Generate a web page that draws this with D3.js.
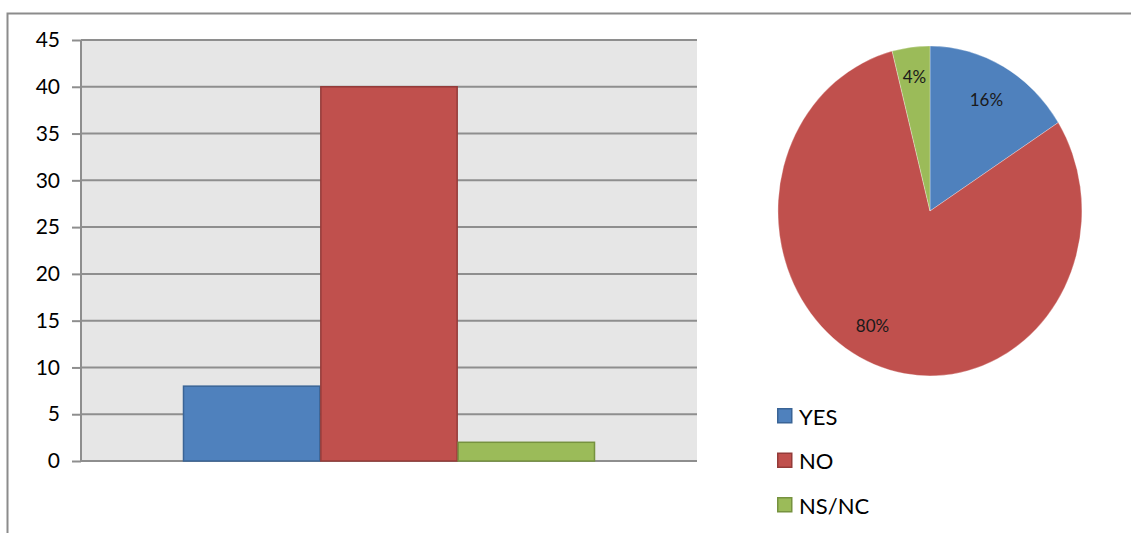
<!DOCTYPE html>
<html>
<head>
<meta charset="utf-8">
<script src="https://cdn.jsdelivr.net/npm/d3@7"></script>
<style>
  html, body { margin: 0; padding: 0; background: #fff; }
  svg { display: block; font-family: Lato, "Open Sans", "Liberation Sans", sans-serif; }
</style>
</head>
<body>
<svg id="chart" width="1131" height="533"></svg>
<script>
// Survey answers
const categories = ["YES", "NO", "NS/NC"];
const counts = [8, 40, 2];
const percentLabels = ["16%", "80%", "4%"];
const yTicks = [0, 5, 10, 15, 20, 25, 30, 35, 40, 45];

const fills = ["#4f81bd", "#c0504d", "#9bbb59"];
const strokes = ["#3a6496", "#943b39", "#76923f"];

const svg = d3.select("#chart");

// outer frame (top and left edges)
svg.append("path")
  .attr("d", "M7.5,533 V13.5 H1131")
  .attr("fill", "none")
  .attr("stroke", "#8c8c8c")
  .attr("stroke-width", 2);

// ---- bar chart ----
const plot = { left: 81, right: 697, top: 40, bottom: 461 };
const y = d3.scaleLinear().domain([0, 45]).range([plot.bottom, plot.top]);
const x = d3.scaleBand().domain(categories)
  .range([plot.left + 102, plot.right - 102]).padding(0);

svg.append("rect")
  .attr("x", plot.left).attr("y", plot.top)
  .attr("width", plot.right - plot.left).attr("height", plot.bottom - plot.top)
  .attr("fill", "#e6e6e6");

// gridlines
svg.append("g")
  .selectAll("line")
  .data(yTicks)
  .join("line")
  .attr("x1", plot.left).attr("x2", plot.right)
  .attr("y1", d => y(d)).attr("y2", d => y(d))
  .attr("stroke", "#8e8e8e").attr("stroke-width", 2);

// y axis
const yAxis = d3.axisLeft(y).tickValues(yTicks).tickSize(9).tickPadding(12);
const gy = svg.append("g").attr("transform", `translate(${plot.left},0)`).call(yAxis);
gy.select(".domain").attr("stroke", "#8e8e8e").attr("stroke-width", 2)
  .attr("d", `M0,${plot.top}V${plot.bottom}`);
gy.selectAll(".tick line").attr("stroke", "#8e8e8e").attr("stroke-width", 2);
gy.selectAll(".tick text")
  .attr("fill", "#000")
  .style("font-size", "21px")
  .style("font-family", "Lato, 'Open Sans', sans-serif");

// bars
svg.append("g")
  .selectAll("rect")
  .data(categories)
  .join("rect")
  .attr("x", d => x(d) + 0.5)
  .attr("y", (d, i) => y(counts[i]))
  .attr("width", x.bandwidth() - 1)
  .attr("height", (d, i) => y(0) - y(counts[i]))
  .attr("fill", (d, i) => fills[i])
  .attr("stroke", (d, i) => strokes[i])
  .attr("stroke-width", 1.5);

// ---- pie chart (slightly taller than wide) ----
const cx = 930, cy = 211, rx = 152, ry = 165;
const pie = d3.pie().sort(null).value(d => d)(counts);
const arc = d3.arc().innerRadius(0).outerRadius(1);

const pieG = svg.append("g").attr("transform", `translate(${cx},${cy}) scale(${rx},${ry})`);
pieG.selectAll("path")
  .data(pie)
  .join("path")
  .attr("d", arc)
  .attr("fill", (d, i) => fills[i])
  .attr("stroke", "#fff")
  .attr("stroke-width", 0.3)
  .attr("vector-effect", "non-scaling-stroke");

// percentage labels: radial distance and small angular nudge per slice
const labelRadius = [0.77, 0.79, 0.82];
const labelNudgeDeg = [0, 7, 0];
svg.append("g")
  .selectAll("text")
  .data(pie)
  .join("text")
  .each(function (d, i) {
    const a = (d.startAngle + d.endAngle) / 2 + labelNudgeDeg[i] * Math.PI / 180;
    d3.select(this)
      .attr("x", cx + rx * labelRadius[i] * Math.sin(a))
      .attr("y", cy - ry * labelRadius[i] * Math.cos(a));
  })
  .attr("text-anchor", "middle")
  .attr("dominant-baseline", "central")
  .attr("fill", "#1a1a1a")
  .style("font-size", "17px")
  .text((d, i) => percentLabels[i]);

// legend
const legend = svg.append("g").attr("transform", "translate(777,408)");
const item = legend.selectAll("g")
  .data(categories)
  .join("g")
  .attr("transform", (d, i) => `translate(0,${i * 44.5})`);
item.append("rect")
  .attr("x", 0.75).attr("y", 0.75).attr("width", 14).attr("height", 14)
  .attr("fill", (d, i) => fills[i])
  .attr("stroke", (d, i) => strokes[i])
  .attr("stroke-width", 1.5);
item.append("text")
  .attr("x", 22).attr("y", 8)
  .attr("dominant-baseline", "central")
  .attr("fill", "#000")
  .style("font-size", "22px")
  .text(d => d);
</script>
</body>
</html>
